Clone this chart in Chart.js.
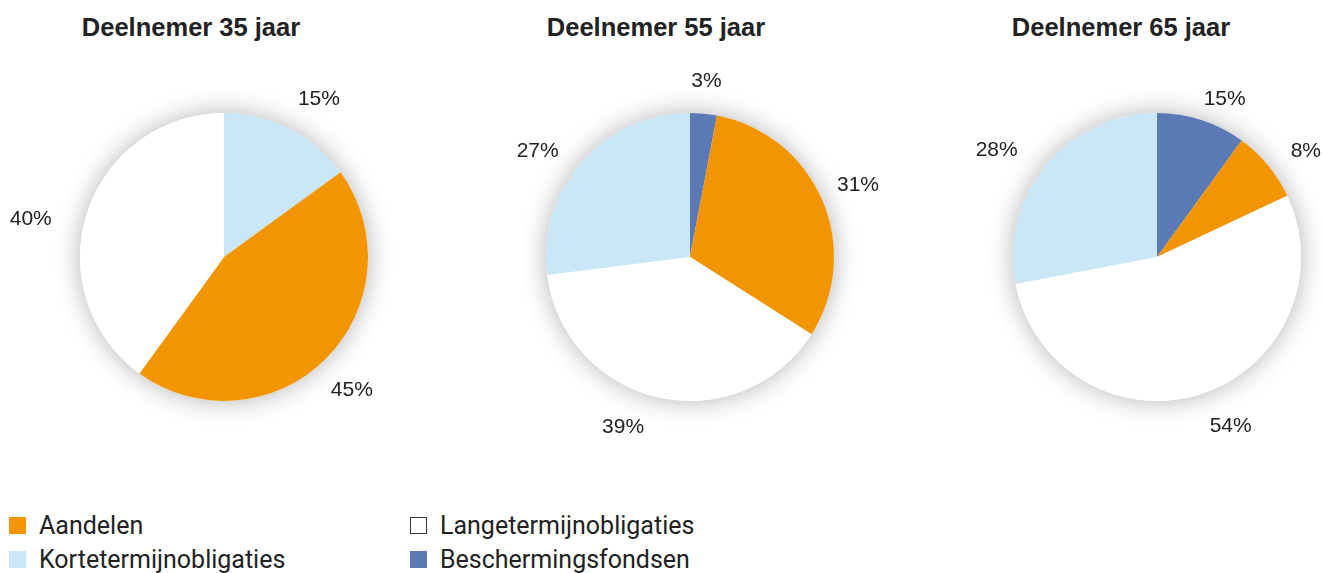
<!DOCTYPE html>
<html lang="nl">
<head>
  <meta charset="UTF-8" />
  <title>Beleggingsmix per leeftijd</title>
  <script src="https://cdn.jsdelivr.net/npm/chart.js"></script>
  <style>
    body {
      margin: 0;
      width: 1324px;
      height: 573px;
      overflow: hidden;
      position: relative;
      background: #fff;
      color: #222;
      font-family: 'Liberation Sans', Arial, sans-serif;
    }
    .pie { position: absolute; top: 0; }
    .title {
      position: absolute;
      top: 12px;
      width: 300px;
      text-align: center;
      font-weight: bold;
      font-size: 25.5px;
      line-height: 30px;
    }
    .legend {
      position: absolute;
      left: 9px;
      top: 508px;
      display: grid;
      grid-template-columns: 401px auto;
      grid-auto-rows: 34px;
      font-family: Roboto, sans-serif;
      font-size: 25px;
    }
    .item { display: flex; align-items: center; gap: 13px; white-space: nowrap; }
    .swatch { width: 17px; height: 17px; box-sizing: border-box; }
  </style>
</head>
<body>
  <div class="title" style="left:41px">Deelnemer 35 jaar</div>
  <div class="title" style="left:506px">Deelnemer 55 jaar</div>
  <div class="title" style="left:971px">Deelnemer 65 jaar</div>

  <canvas id="pie35" class="pie" width="448" height="460" style="left:0px"></canvas>
  <canvas id="pie55" class="pie" width="448" height="460" style="left:466px"></canvas>
  <canvas id="pie65" class="pie" width="448" height="460" style="left:933px"></canvas>

  <div class="legend" id="legend"></div>

  <script>
    // categories and their colours
    const catNames = ['Aandelen', 'Kortetermijnobligaties', 'Langetermijnobligaties', 'Beschermingsfondsen'];
    const catColors = ['#f29500', '#c9e7f7', '#ffffff', '#5a79b5'];
    const legendOrder = ['Aandelen', 'Langetermijnobligaties', 'Kortetermijnobligaties', 'Beschermingsfondsen'];

    // slices, clockwise from the top
    const order35 = ['Kortetermijnobligaties', 'Aandelen', 'Langetermijnobligaties'];
    const values35 = [15, 45, 40];
    const labels35 = ['15%', '45%', '40%'];

    const order55 = ['Beschermingsfondsen', 'Aandelen', 'Langetermijnobligaties', 'Kortetermijnobligaties'];
    const values55 = [3, 31, 39, 27];
    const labels55 = ['3%', '31%', '39%', '27%'];

    const order65 = ['Beschermingsfondsen', 'Aandelen', 'Langetermijnobligaties', 'Kortetermijnobligaties'];
    const values65 = [10, 8, 54, 28];
    const labels65 = ['15%', '8%', '54%', '28%'];

    // soft grey halo behind the pie
    const shadowPlugin = {
      id: 'pieShadow',
      beforeDatasetsDraw(chart) {
        const arc = chart.getDatasetMeta(0).data[0];
        if (!arc) return;
        const ctx = chart.ctx;
        ctx.save();
        ctx.shadowColor = 'rgba(0,0,0,0.3)';
        ctx.shadowBlur = 26;
        ctx.fillStyle = '#fff';
        ctx.beginPath();
        ctx.arc(arc.x, arc.y, arc.outerRadius, 0, Math.PI * 2);
        ctx.fill();
        ctx.restore();
      }
    };

    // percentage texts outside each slice (with small hand nudges like the original)
    const labelPlugin = {
      id: 'pctLabels',
      afterDatasetsDraw(chart, args, opts) {
        const ctx = chart.ctx;
        const texts = chart.data.datasets[0].pctLabels;
        const nudge = opts.nudge || [];
        ctx.save();
        ctx.font = '21px "Liberation Sans", Arial, sans-serif';
        ctx.fillStyle = '#222';
        ctx.textAlign = 'center';
        ctx.textBaseline = 'middle';
        chart.getDatasetMeta(0).data.forEach((arc, i) => {
          const mid = (arc.startAngle + arc.endAngle) / 2;
          const w = ctx.measureText(texts[i]).width;
          const r = arc.outerRadius + 22 + (w / 2) * Math.abs(Math.cos(mid)) + 8 * Math.abs(Math.sin(mid));
          const [nx, ny] = nudge[i] || [0, 0];
          ctx.fillText(texts[i], arc.x + r * Math.cos(mid) + nx, arc.y + r * Math.sin(mid) + ny + 1);
        });
        ctx.restore();
      }
    };

    function makePie(id, order, values, texts, nudge) {
      new Chart(document.getElementById(id), {
        type: 'pie',
        data: {
          labels: order,
          datasets: [{
            data: values,
            backgroundColor: order.map(c => catColors[catNames.indexOf(c)]),
            borderWidth: 0,
            pctLabels: texts
          }]
        },
        options: {
          responsive: false,
          animation: false,
          layout: { padding: { top: 113, bottom: 59, left: 0, right: 0 } },
          plugins: {
            legend: { display: false },
            tooltip: { enabled: false },
            pctLabels: { nudge: nudge }
          }
        },
        plugins: [shadowPlugin, labelPlugin]
      });
    }

    makePie('pie35', order35, values35, labels35, [[12, 4], [-4, 0], [-14, 19]]);
    makePie('pie55', order55, values55, labels55, [[0, -2], [-5, 2], [-28, -5], [-12, 17]]);
    makePie('pie65', order65, values65, labels65, [[12, 12], [8, 10], [18, -3], [-16, 12]]);

    // legend in two columns
    const legend = document.getElementById('legend');
    legendOrder.forEach(name => {
      const item = document.createElement('div');
      item.className = 'item';
      const sw = document.createElement('span');
      sw.className = 'swatch';
      sw.style.background = catColors[catNames.indexOf(name)];
      if (name === 'Langetermijnobligaties') sw.style.border = '1.5px solid #333';
      const txt = document.createElement('span');
      txt.textContent = name;
      item.appendChild(sw);
      item.appendChild(txt);
      legend.appendChild(item);
    });
  </script>
</body>
</html>
